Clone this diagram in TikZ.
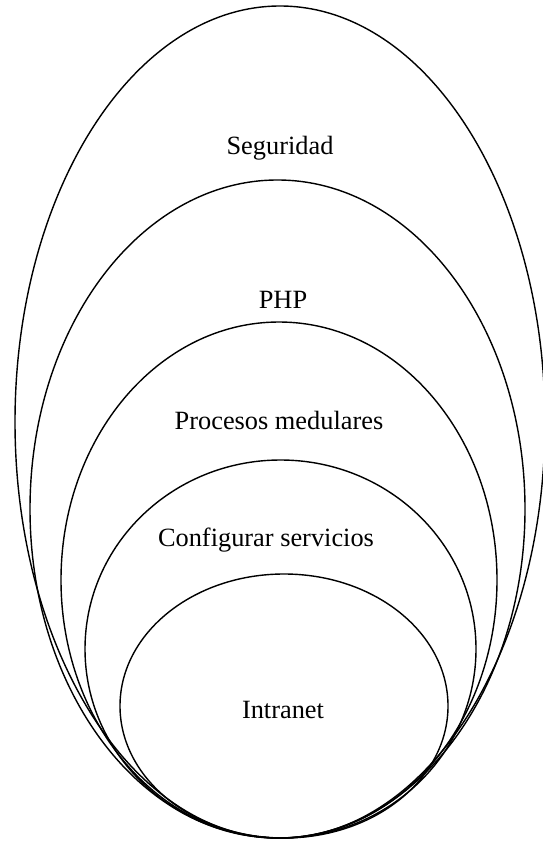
\documentclass[tikz,border=0pt]{standalone}
\usepackage{fontspec}
\setmainfont{Liberation Serif}
\usetikzlibrary{positioning}

\begin{document}
\begin{tikzpicture}[x=0.02cm, y=-0.02cm, font=\fontsize{15}{18}\selectfont]
        % Nested ellipses, all resting on the same bottom point
        \useasboundingbox (0,0) rectangle (543,841);
        \draw[thick] (280,422) ellipse [x radius=265, y radius=416];
        \draw[thick] (277.5,509) ellipse [x radius=247.5, y radius=329];
        \draw[thick] (279,580) ellipse [x radius=218, y radius=258];
        \draw[thick] (280.5,649) ellipse [x radius=195.5, y radius=189];
        \draw[thick] (284,706) ellipse [x radius=164, y radius=132];
        \node (seguridad) at (280,148) {Seguridad};
        \node (php) at (283,300) {PHP};
        \node (procesos) at (279,420) {Procesos medulares};
        \node (configurar) at (266,540) {Configurar servicios};
        \node (intranet) at (283,710) {Intranet};
    \end{tikzpicture}
\end{document}
